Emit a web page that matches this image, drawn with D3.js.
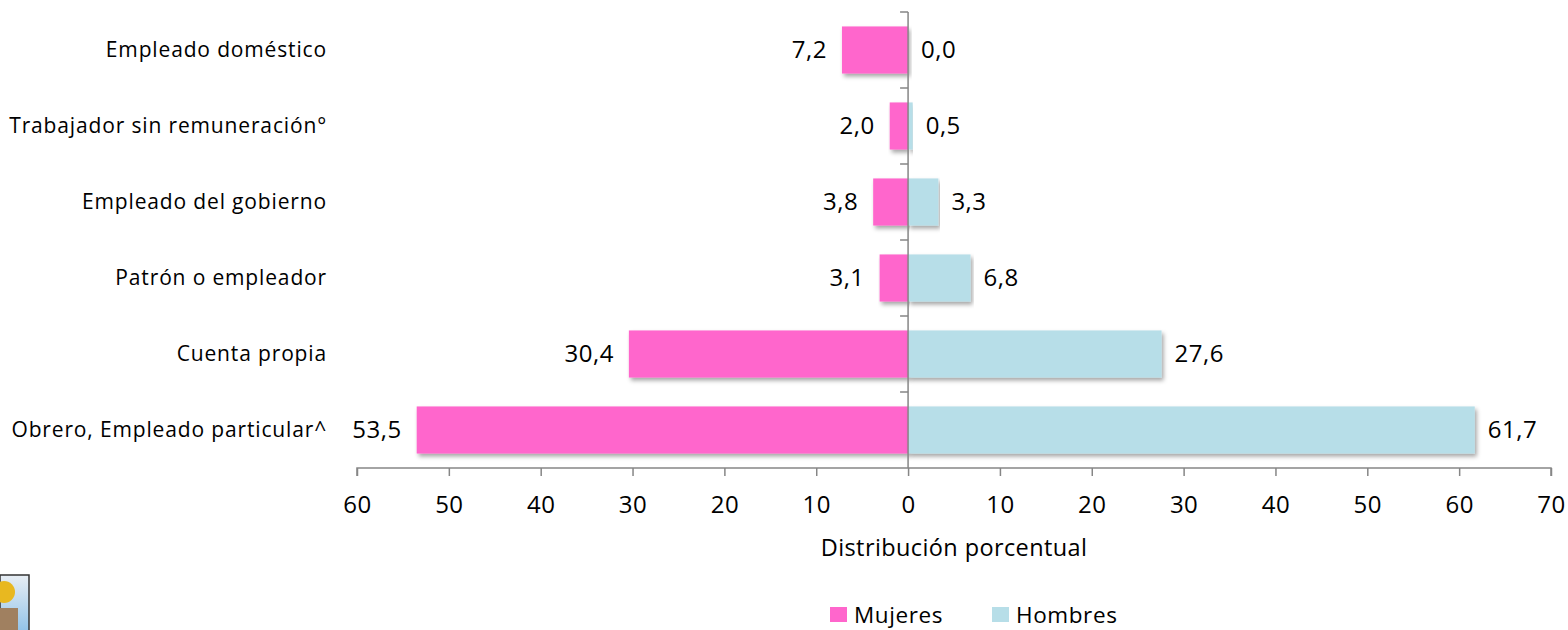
<!DOCTYPE html>
<html>
<head>
<meta charset="utf-8">
<script src="https://cdn.jsdelivr.net/npm/d3@7"></script>
<style>
  body { margin: 0; background: #fff; }
  svg { display: block; font-family: "Open Sans", sans-serif; }
  text { fill: #000; }
  .cat { font-size: 21px; letter-spacing: 0.85px; }
  .num { font-size: 24px; letter-spacing: 0.5px; }
  .tick text { font-size: 24px; letter-spacing: 0.5px; font-family: "Open Sans", sans-serif; }
  .title { font-size: 23.5px; letter-spacing: 0.4px; }
  .leg { font-size: 22.5px; letter-spacing: 0.6px; }
</style>
</head>
<body>
<svg id="chart"></svg>
<script>
const categories = [
  "Empleado doméstico",
  "Trabajador sin remuneración°",
  "Empleado del gobierno",
  "Patrón o empleador",
  "Cuenta propia",
  "Obrero, Empleado particular^"
];
const mujeres = [7.2, 2.0, 3.8, 3.1, 30.4, 53.5];
const hombres = [0.0, 0.5, 3.3, 6.8, 27.6, 61.7];
const xTicks = [-60, -50, -40, -30, -20, -10, 0, 10, 20, 30, 40, 50, 60, 70];
const seriesNames = ["Mujeres", "Hombres"];
const colors = ["#FF66CC", "#B7DEE8"];

const width = 1568, height = 630;
const svg = d3.select("#chart").attr("width", width).attr("height", height);

const x = d3.scaleLinear().domain([-60, 70]).range([357, 1551]);
const y = d3.scaleBand().domain(categories).range([12, 468]).paddingInner(0.38).paddingOuter(0.19);

// drop shadow for bars
const defs = svg.append("defs");
defs.append("filter").attr("id", "shadow")
  .attr("x", "-5%").attr("y", "-20%").attr("width", "110%").attr("height", "150%")
  .append("feDropShadow")
  .attr("dx", 2).attr("dy", 3).attr("stdDeviation", 2)
  .attr("flood-color", "#000").attr("flood-opacity", 0.35);

const fmt = v => d3.format(".1f")(v).replace(".", ",");

// bars
const rows = categories.map((c, i) => ({ cat: c, m: mujeres[i], h: hombres[i] }));

svg.append("g").selectAll("rect")
  .data(rows)
  .join("rect")
  .attr("x", d => x(-d.m))
  .attr("y", d => y(d.cat))
  .attr("width", d => x(0) - x(-d.m))
  .attr("height", y.bandwidth())
  .attr("fill", colors[0])
  .attr("filter", "url(#shadow)");

svg.append("g").selectAll("rect")
  .data(rows.filter(d => d.h > 0))
  .join("rect")
  .attr("x", x(0))
  .attr("y", d => y(d.cat))
  .attr("width", d => x(d.h) - x(0))
  .attr("height", y.bandwidth())
  .attr("fill", colors[1])
  .attr("filter", "url(#shadow)");

// value labels
svg.append("g").selectAll("text")
  .data(rows)
  .join("text")
  .attr("class", "num")
  .attr("x", d => x(-d.m) - 15)
  .attr("y", d => y(d.cat) + y.bandwidth() / 2)
  .attr("dy", "0.35em")
  .attr("text-anchor", "end")
  .text(d => fmt(d.m));

svg.append("g").selectAll("text")
  .data(rows)
  .join("text")
  .attr("class", "num")
  .attr("x", d => x(d.h) + 13)
  .attr("y", d => y(d.cat) + y.bandwidth() / 2)
  .attr("dy", "0.35em")
  .attr("text-anchor", "start")
  .text(d => fmt(d.h));

// category labels
svg.append("g").selectAll("text")
  .data(categories)
  .join("text")
  .attr("class", "cat")
  .attr("x", 327)
  .attr("y", d => y(d) + y.bandwidth() / 2)
  .attr("dy", "0.35em")
  .attr("text-anchor", "end")
  .text(d => d);

// x axis
const xAxis = svg.append("g")
  .attr("transform", `translate(0,468)`)
  .call(d3.axisBottom(x).tickValues(xTicks).tickSize(8).tickPadding(20)
    .tickFormat(d => Math.abs(d)));
xAxis.selectAll("path, line").attr("stroke", "#868686").attr("stroke-width", 1.5);
xAxis.select(".domain").attr("d", `M${x(-60)},8V0H${x(70)}V8`);
xAxis.attr("font-size", null).attr("font-family", null);

// vertical axis at zero
const boundaries = d3.range(categories.length + 1).map(i => 12 + i * (456 / categories.length));
const yAxis = svg.append("g");
yAxis.append("line")
  .attr("x1", x(0)).attr("x2", x(0)).attr("y1", 12).attr("y2", 468)
  .attr("stroke", "#868686").attr("stroke-width", 1.5);
yAxis.selectAll("line.tick")
  .data(boundaries.slice(0, -1))
  .join("line")
  .attr("class", "tick")
  .attr("x1", x(0) - 8).attr("x2", x(0))
  .attr("y1", d => d).attr("y2", d => d)
  .attr("stroke", "#868686").attr("stroke-width", 1.5);

// axis title
svg.append("text")
  .attr("class", "title")
  .attr("x", x(0) + 46)
  .attr("y", 548)
  .attr("dy", "0.35em")
  .attr("text-anchor", "middle")
  .text("Distribución porcentual");

// legend
const legend = svg.append("g");
const legendX = [830, 992];
seriesNames.forEach((name, i) => {
  legend.append("rect")
    .attr("x", legendX[i]).attr("y", 607)
    .attr("width", 17).attr("height", 15)
    .attr("fill", colors[i]);
  legend.append("text")
    .attr("class", "leg")
    .attr("x", legendX[i] + 24).attr("y", 615)
    .attr("dy", "0.35em")
    .text(name);
});

// small logo, bottom left
const logo = svg.append("g");
const sky = defs.append("linearGradient").attr("id", "sky").attr("x1", 0).attr("x2", 0).attr("y1", 0).attr("y2", 1);
sky.append("stop").attr("offset", "0%").attr("stop-color", "#e8eef4");
sky.append("stop").attr("offset", "100%").attr("stop-color", "#8cc0e8");
logo.append("rect").attr("x", 0).attr("y", 575).attr("width", 29).attr("height", 60)
  .attr("fill", "url(#sky)").attr("stroke", "#333").attr("stroke-width", 1.5);
logo.append("circle").attr("cx", 4).attr("cy", 592).attr("r", 11).attr("fill", "#e8b820");
logo.append("rect").attr("x", 0).attr("y", 608).attr("width", 18).attr("height", 22).attr("fill", "#a08060");
</script>
</body>
</html>
